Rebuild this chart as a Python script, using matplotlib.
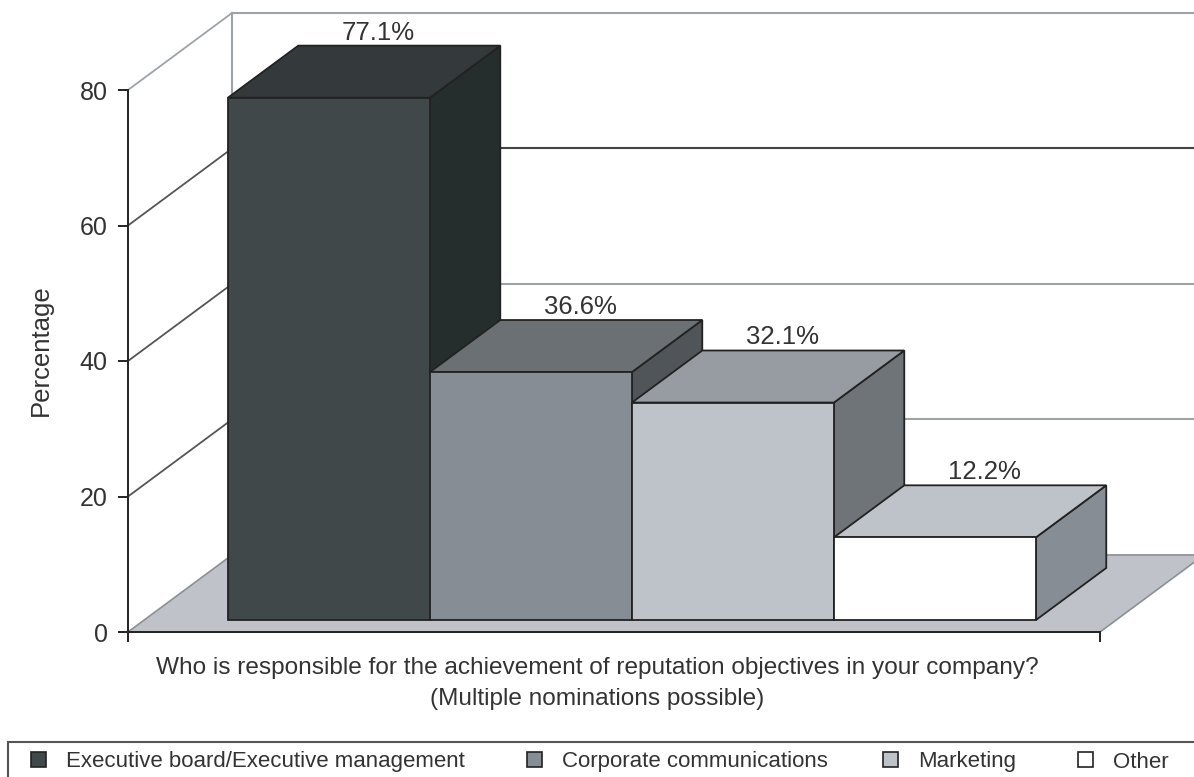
import matplotlib.pyplot as plt
from matplotlib.patches import Polygon, Rectangle, Patch

plt.rcParams['font.family'] = ['Liberation Sans', 'DejaVu Sans']

categories = ['Executive board/Executive management', 'Corporate communications',
              'Marketing', 'Other']
values = [77.1, 36.6, 32.1, 12.2]
bar_labels = ['77.1%', '36.6%', '32.1%', '12.2%']
yticks = [0, 20, 40, 60, 80]

front_colors = ['#41484a', '#878d94', '#bec2c9', '#ffffff']
top_colors = ['#343a3c', '#6a7073', '#979ca3', '#bec2c9']
side_colors = ['#262d2d', '#4f5558', '#6e7478', '#878d94']
txt = '#333333'

# fake 3d geometry (x in bar widths, y in percent)
XMAX = 4.812
WALL_DX, WALL_DY = 0.515, 11.37     # depth of the box
BAR_DX, BAR_DY = 0.348, 7.68        # depth of each bar
OFF_Y = 1.77                        # bars sit a bit behind the front edge
X0 = 0.495                          # front-left of first bar

fig = plt.figure(figsize=(11.94, 7.77), dpi=100)
ax = fig.add_axes([128 / 1194, 145 / 777, 972 / 1194, 542 / 777])
ax.set_xlim(0, XMAX)
ax.set_ylim(0, 80)
ax.patch.set_visible(False)

# floor
floor = Polygon([(0, 0), (XMAX, 0), (XMAX + WALL_DX, WALL_DY), (WALL_DX, WALL_DY)],
                closed=True, facecolor='#bfc3c9', edgecolor='#8a9095', lw=1.2,
                zorder=1, clip_on=False)
ax.add_patch(floor)

# walls: back vertical, back gridlines, side diagonals
ax.plot([WALL_DX, WALL_DX], [WALL_DY, 80 + WALL_DY], color='#9ea3a8', lw=1.5,
        zorder=1, clip_on=False)
for t in yticks[1:]:
    c = '#9ea3a8' if t == 80 else '#555555'
    cb = '#444444' if t == 60 else '#9ea3a8'
    ax.plot([WALL_DX, XMAX + 3], [t + WALL_DY, t + WALL_DY], color=cb, lw=1.5,
            zorder=1, clip_on=False)
    ax.plot([0, WALL_DX], [t, t + WALL_DY], color=c, lw=1.3, zorder=1, clip_on=False)

# bars
for i, v in enumerate(values):
    x = X0 + i
    y = OFF_Y
    kw = dict(edgecolor='#222222', lw=1.3, clip_on=False, zorder=3 + i)
    ax.add_patch(Polygon([(x + 1, y), (x + 1 + BAR_DX, y + BAR_DY),
                          (x + 1 + BAR_DX, y + v + BAR_DY), (x + 1, y + v)],
                         facecolor=side_colors[i], **kw))
    ax.add_patch(Polygon([(x, y + v), (x + 1, y + v), (x + 1 + BAR_DX, y + v + BAR_DY),
                          (x + BAR_DX, y + v + BAR_DY)],
                         facecolor=top_colors[i], **kw))
    ax.add_patch(Rectangle((x, y), 1, v, facecolor=front_colors[i], **kw))
    ax.text(x + 0.5 + 0.245, y + v + BAR_DY + 0.9, bar_labels[i], ha='center',
            va='baseline', fontsize=18.5, color=txt, zorder=10)

for s in ['top', 'right']:
    ax.spines[s].set_visible(False)
for s in ['left', 'bottom']:
    ax.spines[s].set_color('#222222')
    ax.spines[s].set_linewidth(1.4)
    ax.spines[s].set_zorder(2)
ax.set_yticks(yticks)
ax.set_xticks([0, XMAX])
ax.set_xticklabels(['', ''])
ax.tick_params(axis='y', length=7.5, width=1.4, pad=7, labelsize=18, labelcolor=txt,
               color='#222222')
ax.tick_params(axis='x', length=7.5, width=1.4, color='#222222')
ax.set_ylabel('Percentage', fontsize=18.5, color=txt)
ax.yaxis.set_label_coords(-0.077, 0.52)

fig.text(0.5, 1 - 668 / 777,
         'Who is responsible for the achievement of reputation objectives in your company?',
         ha='center', va='center', fontsize=17.6, color=txt)
fig.text(0.5, 1 - 699 / 777, '(Multiple nominations possible)',
         ha='center', va='center', fontsize=17.6, color=txt)

# legend, one entry per box so each sits where the original puts it
legend_x = [31, 527, 883, 1078]
for i, name in enumerate(categories):
    h = Patch(facecolor=front_colors[i], edgecolor='#222222', lw=1.2)
    fig.legend([h], [name], loc='center left',
               bbox_to_anchor=(legend_x[i] / 1194, 1 - 762 / 777), frameon=False,
               fontsize=16, handlelength=0.68, handleheight=0.68, handletextpad=0.9,
               borderpad=0, borderaxespad=0, labelcolor=txt)
fig.add_artist(Rectangle((8 / 1194, -0.1), 1.2, 0.1 + 35 / 777,
                         transform=fig.transFigure, fill=False,
                         edgecolor='#555555', lw=1.5))

fig.savefig('out.png', dpi=100)
